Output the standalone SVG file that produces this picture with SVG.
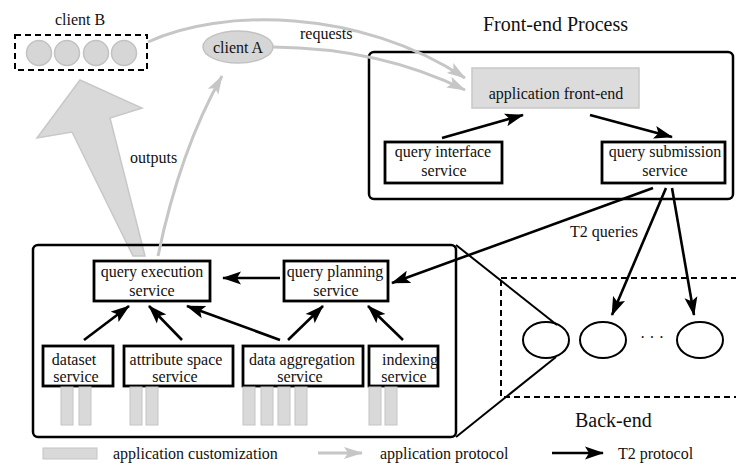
<svg xmlns="http://www.w3.org/2000/svg" width="736" height="465" viewBox="0 0 736 465">
  <defs>
    <marker id="headBlack" viewBox="0 0 20 14" markerWidth="20" markerHeight="14" refX="18" refY="7" orient="auto" markerUnits="userSpaceOnUse">
      <path d="M0,0.5 L19,7 L0,13.5 L4,7 z" fill="#000"/>
    </marker>
    <marker id="headGray" viewBox="0 0 20 14" markerWidth="20" markerHeight="14" refX="18" refY="7" orient="auto" markerUnits="userSpaceOnUse">
      <path d="M0,1 L19,7 L0,13 L4,7 z" fill="#c6c6c6"/>
    </marker>
  </defs>
  <style>
    text { font-family: "Liberation Serif", "Times New Roman", serif; font-size: 16px; fill: #111; }
    .big { font-size: 20px; }
    .mid { text-anchor: middle; }
    .process { fill: none; stroke: #000; stroke-width: 2.5; }
    .svc { fill: #fff; stroke: #000; stroke-width: 2.8; }
    .custom { fill: #d9d9d9; stroke: #c4c4c4; stroke-width: 1; }
    .client { fill: #d6d6d6; stroke: #c2c2c2; stroke-width: 1.5; }
    .dashed { fill: none; stroke: #000; stroke-width: 2; stroke-dasharray: 6 4; }
    .t2 { fill: none; stroke: #000; stroke-width: 2.6; marker-end: url(#headBlack); }
    .app { fill: none; stroke: #c6c6c6; stroke-width: 3; marker-end: url(#headGray); }
    .node { fill: none; stroke: #000; stroke-width: 2; }
    .link { fill: none; stroke: #000; stroke-width: 2; }
  </style>

  <rect width="736" height="465" fill="#fff"/>

  <!-- client B: group of clients -->
  <g id="client-b">
    <text x="55" y="25">client B</text>
    <rect class="dashed" x="15" y="35" width="132" height="35"/>
    <circle class="client" cx="39" cy="53" r="12.5"/>
    <circle class="client" cx="67" cy="53" r="12.5"/>
    <circle class="client" cx="96" cy="53" r="12.5"/>
    <circle class="client" cx="124" cy="53" r="12.5"/>
  </g>

  <!-- client A -->
  <g id="client-a">
    <ellipse class="client" cx="238" cy="47" rx="35" ry="16"/>
    <text x="238" y="53" class="mid">client A</text>
  </g>

  <!-- outputs: wide arrow back to client B -->
  <g id="outputs-arrow">
    <polygon points="80,80 142,108 110,118 145,256 133,256 72,132 37,138" fill="#d9d9d9" stroke="#c8c8c8" stroke-width="1.5"/>
  </g>

  <!-- front-end process -->
  <g id="front-end-process">
    <text x="483" y="31" class="big">Front-end Process</text>
    <rect class="process" x="369" y="52" width="364" height="147" rx="5"/>
  </g>

  <g id="application-front-end">
    <rect x="472" y="68" width="167" height="40" fill="#dcdcdc" stroke="#c8c8c8" stroke-width="1.5"/>
    <text x="556" y="99" class="mid">application front-end</text>
  </g>

  <g id="query-interface-service">
    <rect class="svc" x="385" y="142" width="117" height="41"/>
    <text x="443" y="157" class="mid">query interface</text>
    <text x="444" y="176" class="mid">service</text>
  </g>

  <g id="query-submission-service">
    <rect class="svc" x="602" y="142" width="123" height="41"/>
    <text x="665" y="157" class="mid">query submission</text>
    <text x="665" y="176" class="mid">service</text>
  </g>

  <!-- application process on the back-end side -->
  <g id="application-process">
    <rect class="process" x="33" y="245" width="423" height="192" rx="5"/>
  </g>

  <g id="query-execution-service">
    <rect class="svc" x="94" y="261" width="116" height="40"/>
    <text x="152" y="277" class="mid">query execution</text>
    <text x="152" y="296" class="mid">service</text>
  </g>

  <g id="query-planning-service">
    <rect class="svc" x="284" y="261" width="104" height="40"/>
    <text x="335" y="277" class="mid">query planning</text>
    <text x="336" y="296" class="mid">service</text>
  </g>

  <g id="dataset-service">
    <rect class="svc" x="43" y="346" width="70" height="40"/>
    <text x="74" y="365" class="mid">dataset</text>
    <text x="76" y="382" class="mid">service</text>
    <rect class="custom" x="61" y="387" width="12" height="38"/>
    <rect class="custom" x="79" y="387" width="12" height="38"/>
  </g>

  <g id="attribute-space-service">
    <rect class="svc" x="124" y="346" width="109" height="40"/>
    <text x="176" y="365" class="mid">attribute space</text>
    <text x="175" y="382" class="mid">service</text>
    <rect class="custom" x="130" y="387" width="12" height="38"/>
    <rect class="custom" x="146" y="387" width="12" height="38"/>
  </g>

  <g id="data-aggregation-service">
    <rect class="svc" x="243" y="346" width="120" height="40"/>
    <text x="302" y="365" class="mid">data aggregation</text>
    <text x="300" y="382" class="mid">service</text>
    <rect class="custom" x="243" y="387" width="12" height="38"/>
    <rect class="custom" x="261" y="387" width="12" height="38"/>
    <rect class="custom" x="278" y="387" width="12" height="38"/>
    <rect class="custom" x="295" y="387" width="12" height="38"/>
  </g>

  <g id="indexing-service">
    <rect class="svc" x="369" y="346" width="69" height="40"/>
    <text x="410" y="365" class="mid">indexing</text>
    <text x="404" y="382" class="mid">service</text>
    <rect class="custom" x="369" y="387" width="12" height="38"/>
    <rect class="custom" x="385" y="387" width="12" height="38"/>
  </g>

  <!-- back-end storage nodes -->
  <g id="back-end">
    <rect class="dashed" x="501" y="278" width="260" height="119"/>
    <ellipse class="node" cx="546" cy="340" rx="23" ry="18"/>
    <ellipse class="node" cx="603" cy="340" rx="23" ry="18"/>
    <ellipse class="node" cx="700" cy="340" rx="23" ry="18"/>
    <text x="652" y="343" class="mid">· · ·</text>
    <text x="575" y="427" class="big">Back-end</text>
  </g>

  <!-- connectors -->
  <g id="connectors">
    <!-- application protocol (gray) -->
    <path class="app" d="M148,42 C220,8 360,8 465,78"/>
    <path class="app" d="M273,47 Q380,48 465,90"/>
    <path class="app" d="M158,256 Q180,150 222,76"/>
    <text x="300" y="39">requests</text>
    <text x="130" y="163">outputs</text>

    <!-- T2 protocol (black) -->
    <line class="t2" x1="442" y1="138" x2="523" y2="115"/>
    <line class="t2" x1="590" y1="115" x2="672" y2="137"/>
    <line class="t2" x1="653" y1="188" x2="392" y2="283"/>
    <line class="t2" x1="666" y1="188" x2="612" y2="315"/>
    <line class="t2" x1="672" y1="188" x2="694" y2="315"/>
    <text x="570" y="237">T2 queries</text>

    <line class="t2" x1="280" y1="278" x2="223" y2="278"/>
    <line class="t2" x1="84" y1="340" x2="129" y2="306"/>
    <line class="t2" x1="182" y1="340" x2="149" y2="306"/>
    <line class="t2" x1="280" y1="340" x2="187" y2="306"/>
    <line class="t2" x1="288" y1="340" x2="323" y2="306"/>
    <line class="t2" x1="403" y1="340" x2="368" y2="306"/>

    <!-- process-to-node projection lines -->
    <line class="link" x1="456" y1="245" x2="557" y2="325"/>
    <line class="link" x1="456" y1="437" x2="556" y2="357"/>
  </g>

  <!-- legend -->
  <g id="legend">
    <rect class="custom" x="43" y="448" width="54" height="11"/>
    <text x="113" y="459">application customization</text>
    <line class="app" x1="318" y1="453" x2="362" y2="453"/>
    <text x="380" y="459">application protocol</text>
    <line class="t2" x1="552" y1="453" x2="603" y2="453"/>
    <text x="618" y="459">T2 protocol</text>
  </g>
</svg>
